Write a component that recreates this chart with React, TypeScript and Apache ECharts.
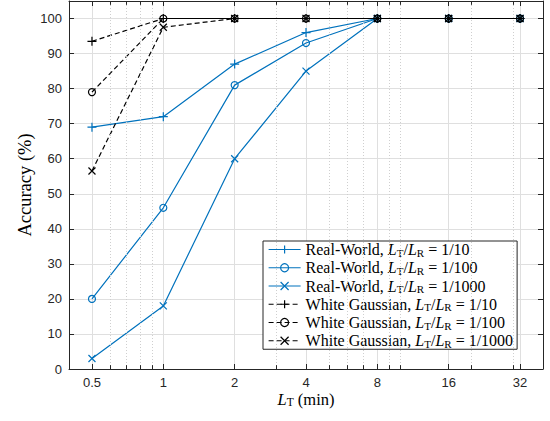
import React, { useEffect, useRef } from 'react';
import * as echarts from 'echarts';

// ---- data ----
const xValues = [0.5, 1, 2, 4, 8, 16, 32];
const xTickLabels = ['0.5', '1', '2', '4', '8', '16', '32'];
const rw10 = [69, 72, 87, 96, 100, 100, 100];
const rw100 = [20, 46, 81, 93, 100, 100, 100];
const rw1000 = [3, 18, 60, 85, 100, 100, 100];
const wg10 = [93.5, 100, 100, 100, 100, 100, 100];
const wg100 = [79, 100, 100, 100, 100, 100, 100];
const wg1000 = [56.5, 97.5, 100, 100, 100, 100, 100];
const minorXTicks = [0.6, 0.7, 0.8, 0.9, 3, 5, 6, 7, 9, 10, 20, 30];
const seriesNames = [
  'Real-World, LT/LR = 1/10',
  'Real-World, LT/LR = 1/100',
  'Real-World, LT/LR = 1/1000',
  'White Gaussian, LT/LR = 1/10',
  'White Gaussian, LT/LR = 1/100',
  'White Gaussian, LT/LR = 1/1000',
];
const legendPrefixes = ['Real-World', 'Real-World', 'Real-World', 'White Gaussian', 'White Gaussian', 'White Gaussian'];
const legendRatios = ['1/10', '1/100', '1/1000', '1/10', '1/100', '1/1000'];

const BLUE = '#0072BD';
const BLACK = '#000000';
const AXIS = '#262626';
const SERIF = 'Liberation Serif';
const SANS = 'Liberation Sans';

const X_MIN = 0.4;
const X_MAX = 40;
const Y_MIN = 0;
const Y_MAX = 105;

const PLUS = 'path://M0,5L10,5M5,0L5,10';
const CROSS = 'path://M0,0L10,10M10,0L0,10';

export default function App() {
  const ref = useRef<HTMLDivElement>(null);

  useEffect(() => {
    if (!ref.current) return;
    const chart = echarts.init(ref.current, undefined, { renderer: 'svg' });

    const mk = (
      name: string,
      values: number[],
      color: string,
      symbol: string,
      size: number,
      dashed: boolean,
      z: number
    ) => ({
      name,
      type: 'line',
      data: xValues.map((x, i) => [x, values[i]]),
      symbol,
      symbolSize: size,
      showSymbol: true,
      z,
      lineStyle: { color, width: 1.2, type: dashed ? [5, 3] : 'solid' },
      itemStyle: { color: 'rgba(0,0,0,0)', borderColor: color, borderWidth: 1.2 },
      emphasis: { disabled: true },
      silent: true,
    });

    const legendMap: Record<string, string> = {};
    seriesNames.forEach((n, i) => {
      legendMap[n] = `{r|${legendPrefixes[i]}, }{i|L}{s|T}{r|/}{i|L}{s|R}{r| = ${legendRatios[i]}}`;
    });

    const LF = 16;
    const minorTickLen = 1.1;

    const option: any = {
      animation: false,
      backgroundColor: '#ffffff',
      grid: { left: 69, right: 7, top: 1, bottom: 52, containLabel: false },
      legend: {
        data: seriesNames,
        orient: 'vertical',
        left: 263,
        top: 241,
        padding: [0, 4, 0, 5],
        itemGap: 1.25,
        itemWidth: 32,
        itemHeight: 10,
        backgroundColor: '#ffffff',
        borderColor: AXIS,
        borderWidth: 1,
        borderRadius: 0,
        selectedMode: false,
        lineStyle: { width: 1.2 },
        itemStyle: { borderWidth: 1.2 },
        formatter: (name: string) => legendMap[name] || name,
        textStyle: {
          fontFamily: SERIF,
          fontSize: LF,
          lineHeight: 16,
          color: '#000',
          rich: {
            r: { fontFamily: SERIF, fontSize: LF, lineHeight: 16, color: '#000' },
            i: { fontFamily: SERIF, fontSize: LF, fontStyle: 'italic', lineHeight: 16, color: '#000' },
            s: { fontFamily: SERIF, fontSize: 11, lineHeight: 10, padding: [6, 0, 0, 0], color: '#000' },
          },
        },
      },
      xAxis: [
        {
          type: 'log',
          logBase: 2,
          min: X_MIN,
          max: X_MAX,
          position: 'bottom',
          name: '{i|L}{s|T}{r| (min)}',
          nameLocation: 'middle',
          nameGap: 22.7,
          nameMoveOverlap: false,
          nameTextStyle: {
            fontFamily: SERIF,
            fontSize: 16.5,
            lineHeight: 15,
            color: '#000',
            rich: {
              r: { fontFamily: SERIF, fontSize: 16.5, lineHeight: 15, color: '#000' },
              i: { fontFamily: SERIF, fontSize: 16.5, fontStyle: 'italic', lineHeight: 15, color: '#000' },
              s: { fontFamily: SERIF, fontSize: 11.5, lineHeight: 9, padding: [6, 0, 0, 0], color: '#000' },
            },
          },
          axisLine: { show: true, onZero: false, lineStyle: { color: AXIS, width: 1 } },
          axisTick: { show: true, inside: true, length: 5, lineStyle: { color: AXIS } },
          axisLabel: {
            margin: 7,
            fontFamily: SANS,
            fontSize: 13,
            color: AXIS,
            formatter: (v: number) => {
              const idx = xValues.findIndex((x) => Math.abs(x - v) < 1e-6);
              return idx >= 0 ? xTickLabels[idx] : '';
            },
          },
          splitLine: { show: true, lineStyle: { color: '#dfdfdf', width: 1 } },
        },
        {
          type: 'log',
          logBase: 2,
          min: X_MIN,
          max: X_MAX,
          position: 'top',
          axisLine: { show: true, onZero: false, lineStyle: { color: AXIS, width: 1 } },
          axisTick: { show: true, inside: true, length: 5, lineStyle: { color: AXIS } },
          axisLabel: { show: false },
          splitLine: { show: false },
        },
      ],
      yAxis: [
        {
          type: 'value',
          min: Y_MIN,
          max: Y_MAX,
          interval: 10,
          position: 'left',
          name: 'Accuracy (%)',
          nameLocation: 'middle',
          nameGap: 35,
          nameMoveOverlap: false,
          nameTextStyle: { fontFamily: SERIF, fontSize: 18.5, color: '#000' },
          axisLine: { show: true, onZero: false, lineStyle: { color: AXIS, width: 1 } },
          axisTick: { show: true, inside: true, length: 5, lineStyle: { color: AXIS } },
          axisLabel: {
            margin: 7,
            fontFamily: SANS,
            fontSize: 13,
            color: AXIS,
            formatter: (v: number) => (v > 100 ? '' : String(v)),
          },
          splitLine: { show: true, lineStyle: { color: '#dfdfdf', width: 1 } },
        },
        {
          type: 'value',
          min: Y_MIN,
          max: Y_MAX,
          interval: 10,
          position: 'right',
          axisLine: { show: true, onZero: false, lineStyle: { color: AXIS, width: 1 } },
          axisTick: { show: true, inside: true, length: 5, lineStyle: { color: AXIS } },
          axisLabel: { show: false },
          splitLine: { show: false },
        },
      ],
      series: [
        {
          name: '__minor',
          type: 'line',
          data: [],
          silent: true,
          z: 1,
          markLine: {
            silent: true,
            symbol: ['none', 'none'],
            label: { show: false },
            emphasis: { disabled: true },
            animation: false,
            data: [
              ...minorXTicks.map((x) => ({
                xAxis: x,
                lineStyle: { color: '#cfcfcf', type: [1, 2], width: 1 },
              })),
              ...minorXTicks.map((x) => [
                { coord: [x, Y_MIN], lineStyle: { color: AXIS, type: 'solid', width: 1 } },
                { coord: [x, Y_MIN + minorTickLen] },
              ]),
              ...minorXTicks.map((x) => [
                { coord: [x, Y_MAX], lineStyle: { color: AXIS, type: 'solid', width: 1 } },
                { coord: [x, Y_MAX - minorTickLen] },
              ]),
            ],
          },
        },
        mk(seriesNames[0], rw10, BLUE, PLUS, 9, false, 2),
        mk(seriesNames[1], rw100, BLUE, 'circle', 7, false, 2),
        mk(seriesNames[2], rw1000, BLUE, CROSS, 7, false, 2),
        mk(seriesNames[3], wg10, BLACK, PLUS, 9, true, 3),
        mk(seriesNames[4], wg100, BLACK, 'circle', 7, true, 3),
        mk(seriesNames[5], wg1000, BLACK, CROSS, 7, true, 3),
      ],
    };

    chart.setOption(option);
    return () => {
      chart.dispose();
    };
  }, []);

  return (
    <div
      ref={ref}
      style={{ position: 'fixed', left: 0, top: 0, width: 550, height: 421, background: '#fff' }}
    />
  );
}
